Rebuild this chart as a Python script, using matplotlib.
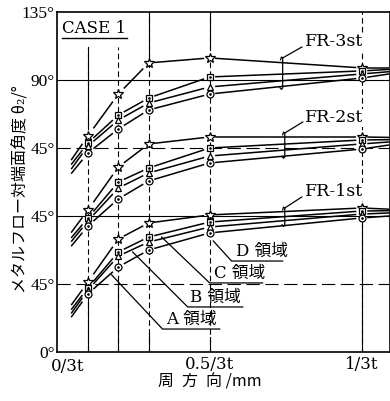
import matplotlib
matplotlib.use('Agg')
import matplotlib.pyplot as plt
import matplotlib.transforms as mtransforms

# ---------------- data ----------------
x_cols = [0.1, 0.2, 0.3, 0.5, 1.0]          # measuring positions (x/3t)
x_left = 0.045                               # start of short lead-in strokes
x_right = 1.09                               # end of short lead-out strokes
x_tick_pos = [0.0, 0.5, 1.0]
x_tick_labels = ['0/3t', '0.5/3t', '1/3t']
y_tick_pos = [0, 45, 90, 135, 180, 225]
y_tick_labels = ['0°', '45°', '45°', '45°', '90°', '135°']

group_names = ['FR-1st', 'FR-2st', 'FR-3st']
group_offsets = [0, 45, 90]

# order inside each group: star (D), square (C), triangle (B), circle (A)
fr1_star = [46.3, 74.8, 85.4, 90.7, 95.3]
fr1_square = [42.4, 66.2, 76.1, 86.0, 93.3]
fr1_triangle = [41.0, 63.5, 72.8, 82.7, 91.3]
fr1_circle = [38.4, 56.3, 67.5, 78.8, 88.7]
fr1_left = [31.0, 28.0, 25.5, 23.0]
fr1_right = [94.5, 93.5, 92.0, 90.0]

fr2_star = [49.0, 77.4, 92.7, 97.3, 97.3]
fr2_square = [43.7, 67.5, 76.8, 90.0, 95.3]
fr2_triangle = [41.7, 63.5, 73.5, 84.7, 92.7]
fr2_circle = [38.4, 56.3, 68.2, 80.1, 89.3]
fr2_left = [34.0, 30.5, 28.0, 25.0]
fr2_right = [97.0, 95.5, 94.0, 92.0]

fr3_star = [53.0, 80.7, 101.3, 104.6, 98.0]
fr3_square = [48.3, 66.8, 78.1, 92.0, 96.0]
fr3_triangle = [46.3, 63.5, 74.8, 85.4, 94.0]
fr3_circle = [41.7, 57.6, 70.2, 80.7, 91.3]
fr3_left = [37.0, 34.0, 31.0, 28.0]
fr3_right = [98.0, 97.0, 95.5, 94.0]

groups = [
    ([fr1_star, fr1_square, fr1_triangle, fr1_circle], fr1_left, fr1_right),
    ([fr2_star, fr2_square, fr2_triangle, fr2_circle], fr2_left, fr2_right),
    ([fr3_star, fr3_square, fr3_triangle, fr3_circle], fr3_left, fr3_right),
]
region_labels = ['A 領域', 'B 領域', 'C 領域', 'D 領域']

# ---------------- figure ----------------
fig = plt.figure(figsize=(3.9, 4.01), dpi=100)
ax = fig.add_axes([0.1474, 0.1222, 0.8516, 0.8479])
ax.set_xlim(0, 1.0915)
ax.set_ylim(0, 225)

for s in ax.spines.values():
    s.set_linewidth(1.2)

ax.set_xticks(x_tick_pos)
ax.set_xticklabels(x_tick_labels, family='DejaVu Serif', fontsize=12)
ax.set_yticks(y_tick_pos)
ax.set_yticklabels(y_tick_labels, family='Liberation Serif', fontsize=12.5)
ax.tick_params(length=0, pad=2)
ax.tick_params(axis='x', pad=3)
# first x label sits a little right of the corner in the original
lab0 = ax.get_xticklabels()[0]
lab0.set_transform(lab0.get_transform() +
                   mtransforms.ScaledTranslation(7 / 72, -1 / 72, fig.dpi_scale_trans))

# horizontal reference lines
ax.axhline(180, color='black', lw=0.8, zorder=1)
ax.axhline(90, color='black', lw=0.8, zorder=1)
ax.axhline(135, color='black', lw=0.8, zorder=1, dashes=(12, 5))
ax.axhline(45, color='black', lw=0.8, zorder=1, dashes=(12, 5))

# vertical measuring lines
vdash = (5, 3)
vlw = 0.8
ax.plot([0.1, 0.1], [0, 202], color='black', lw=vlw, dashes=vdash, zorder=1)
ax.plot([0.1, 0.1], [150, 202], color='black', lw=vlw, zorder=1)
ax.plot([0.1, 0.1], [0, 36], color='black', lw=vlw, zorder=1)
ax.plot([0.2, 0.2], [0, 202], color='black', lw=vlw, dashes=vdash, zorder=1)
ax.plot([0.2, 0.2], [0, 50], color='black', lw=vlw, zorder=1)
ax.plot([0.3, 0.3], [0, 225], color='black', lw=vlw, dashes=vdash, zorder=1)
ax.plot([0.3, 0.3], [0, 12], color='black', lw=vlw, zorder=1)
ax.plot([0.3, 0.3], [196, 225], color='black', lw=vlw, zorder=1)
ax.plot([0.5, 0.5], [0, 225], color='black', lw=vlw, dashes=vdash, zorder=1)
ax.plot([0.5, 0.5], [0, 10], color='black', lw=vlw, zorder=1)
ax.plot([0.5, 0.5], [200, 225], color='black', lw=vlw, zorder=1)
ax.plot([1.0, 1.0], [0, 225], color='black', lw=vlw, dashes=vdash, zorder=1)
ax.plot([1.0, 1.0], [0, 86], color='black', lw=vlw, zorder=1)

# curves with small gaps at the measuring columns
gap = 0.018
mk = ['*', 's', '^', 'o']
ms = [7.5, 4.4, 4.6, 5.0]
for (series, left, right), off in zip(groups, group_offsets):
    for k, vals in enumerate(series):
        xs = [x_left] + x_cols + [x_right]
        ys = [left[k]] + vals + [right[k]]
        is_mk = [False] + [True] * len(x_cols) + [False]
        for i in range(len(xs) - 1):
            xa, xb = xs[i], xs[i + 1]
            ya, yb = ys[i] + off, ys[i + 1] + off
            t0 = gap / (xb - xa) if is_mk[i] else 0.0
            t1 = 1 - gap / (xb - xa) if is_mk[i + 1] else 1.0
            ax.plot([xa + t0 * (xb - xa), xa + t1 * (xb - xa)],
                    [ya + t0 * (yb - ya), ya + t1 * (yb - ya)],
                    color='black', lw=1.1, solid_capstyle='butt', zorder=2)
    # markers
    for k, vals in enumerate(series):
        yv = [v + off for v in vals]
        ax.plot(x_cols, yv, linestyle='none', marker=mk[k], ms=ms[k],
                mfc='white', mec='black', mew=0.9, zorder=5 + k)
        if mk[k] in ('o', 's'):
            ax.plot(x_cols, yv, linestyle='none', marker='.', ms=1.8,
                    color='black', zorder=9)

# CASE 1
ax.text(0.015, 214.4, 'CASE 1', family='DejaVu Serif', fontsize=12,
        va='center', ha='left', zorder=10)
ax.plot([0.015, 0.228], [207.6, 207.6], color='black', lw=1.0)

# FR labels with leader and brace
fr_label_y = [105.9, 154.9, 205.2]
fr_leader = [((0.803, 102.6), (0.747, 95.3), 84.0),
             ((0.806, 152.2), (0.747, 144.9), 129.1),
             ((0.803, 201.8), (0.740, 194.6), 174.7)]
for name, ly, (p0, p1, ybot) in zip(group_names, fr_label_y, fr_leader):
    ax.text(0.815, ly, name, family='DejaVu Serif', fontsize=12.5,
            va='center', ha='left', zorder=10,
            bbox=dict(facecolor='white', edgecolor='none', pad=0.5))
    ax.plot([p0[0], p1[0]], [p0[1], p1[1]], color='black', lw=0.9, zorder=4)
    bx, top = p1
    ax.plot([bx - 0.007, bx - 0.004, bx, bx, bx - 0.004, bx - 0.009],
            [top - 1.2, top + 0.6, top, ybot, ybot - 0.9, ybot + 0.2],
            color='black', lw=0.9, zorder=4)

# region labels with leaders
reg_leaders = [
    [(0.178, 51.0), (0.345, 15.2), (0.533, 15.2)],
    [(0.247, 66.2), (0.428, 29.8), (0.609, 29.8)],
    [(0.342, 76.1), (0.500, 45.7), (0.674, 45.7)],
    [(0.512, 73.5), (0.572, 60.2), (0.740, 60.2)],
]
reg_text_pos = [(0.357, 21.4), (0.437, 36.4), (0.514, 52.3), (0.588, 66.8)]
for lab, pts, (tx, ty) in zip(region_labels, reg_leaders, reg_text_pos):
    ax.plot([p[0] for p in pts], [p[1] for p in pts], color='black',
            lw=0.9, zorder=4)
    ax.text(tx, ty, lab, family=['DejaVu Serif', 'Noto Sans CJK JP'],
            fontsize=12, va='center', ha='left', zorder=10)

# axis titles
fig.text(0.051, 0.529, 'メタルフロー対端面角度 θ₂/°', rotation=90,
         va='center', ha='center', fontsize=11.5,
         family=['Noto Sans CJK JP', 'DejaVu Serif'])
fig.text(0.538, 0.047, '周\u2002方\u2002向 /mm', va='center', ha='center',
         fontsize=11.5, family=['Noto Sans CJK JP', 'DejaVu Serif'])

fig.savefig('out.png', dpi=100)
